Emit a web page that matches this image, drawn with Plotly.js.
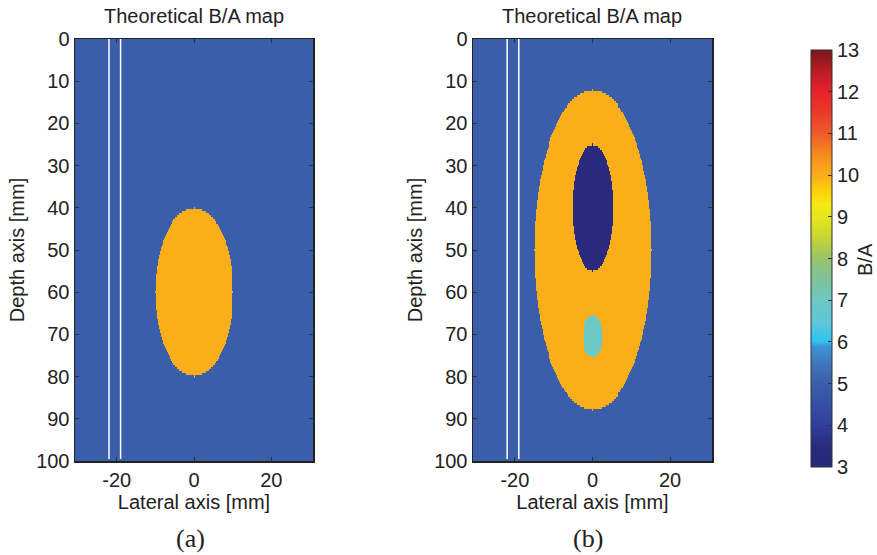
<!DOCTYPE html>
<html>
<head>
<meta charset="utf-8">
<script src="https://cdn.plot.ly/plotly-3.0.1.min.js"></script>
<style>html,body{margin:0;padding:0;background:#fff;}#chart{width:877px;height:555px;}</style>
</head>
<body>
<div id="chart"></div>
<script>
// ---- data ----
const lateralRange = [-31, 31];     // mm
const depthRange = [0, 100];        // mm
const gridStepLateral = 0.25;
const gridStepDepth = 0.5;
const backgroundBA = 5.0;

// Panel (a): one inclusion
const incA_name   = ["fat-like ellipse"];
const incA_value  = [10.0];
const incA_cx     = [0];
const incA_cz     = [60];
const incA_rx     = [10];
const incA_rz     = [20];

// Panel (b): nested inclusions (drawn in order)
const incB_name   = ["outer ellipse", "inner dark ellipse", "small inclusion"];
const incB_value  = [10.0, 3.5, 7.0];
const incB_cx     = [0, 0, 0];
const incB_cz     = [50, 40, 70.5];
const incB_rx     = [15, 5.2, 2.5];
const incB_rz     = [38, 15, 5];

// White vertical lines (lateral positions, mm)
const whiteLinesX = [-22, -19];

const xTicks = [-20, 0, 20];
const xTickText = ["-20", "0", "20"];
const yTicks = [0, 10, 20, 30, 40, 50, 60, 70, 80, 90, 100];
const cbTicks = [3, 4, 5, 6, 7, 8, 9, 10, 11, 12, 13];
const cbMin = 3, cbMax = 13;

// colour stops (value -> colour)
const cbStopVals = [3.0, 3.5, 4.0, 4.5, 5.0, 5.5, 5.9, 6.0, 6.5, 7.0, 7.5, 8.0, 8.5, 9.0, 9.3, 9.6, 10.0, 10.5, 11.0, 11.5, 12.0, 12.5, 13.0];
const cbStopCols = ["#26287a", "#2a2b7e", "#313f9a", "#3550a3", "#3b5eaa", "#3f78bd", "#3b96d4", "#2ec4f0", "#62c6d8", "#6ec9c4", "#7fc39a", "#98c46a", "#c6d532", "#e8e61c", "#f6e916", "#fcd20c", "#f9ae1a", "#f58a1f", "#ef5a28", "#ea3a2a", "#e9202a", "#b81e24", "#7a1517"];

// ---- build grids ----
const xs = [], zs = [];
for (let x = lateralRange[0]; x <= lateralRange[1] + 1e-9; x += gridStepLateral) xs.push(+x.toFixed(3));
for (let z = depthRange[0]; z <= depthRange[1] + 1e-9; z += gridStepDepth) zs.push(+z.toFixed(3));

function buildMap(vals, cx, cz, rx, rz) {
  return zs.map(z => xs.map(x => {
    let v = backgroundBA;
    for (let i = 0; i < vals.length; i++) {
      const dx = (x - cx[i]) / rx[i], dz = (z - cz[i]) / rz[i];
      if (dx * dx + dz * dz <= 1) v = vals[i];
    }
    return v;
  }));
}
const mapA = buildMap(incA_value, incA_cx, incA_cz, incA_rx, incA_rz);
const mapB = buildMap(incB_value, incB_cx, incB_cz, incB_rx, incB_rz);

const colorscale = cbStopVals.map((v, i) => [(v - cbMin) / (cbMax - cbMin), cbStopCols[i]]);

const FONT = "Liberation Sans, Arial, sans-serif";
const TXT = "#222";
const FS = 20;

const traces = [
  { type: "heatmap", x: xs, y: zs, z: mapA, xaxis: "x", yaxis: "y", zmin: cbMin, zmax: cbMax,
    colorscale: colorscale, zsmooth: false, showscale: false, hoverinfo: "skip" },
  { type: "heatmap", x: xs, y: zs, z: mapB, xaxis: "x2", yaxis: "y2", zmin: cbMin, zmax: cbMax,
    colorscale: colorscale, zsmooth: false, showscale: true, hoverinfo: "skip",
    colorbar: {
      x: 811 / 877, xanchor: "left", xpad: 0, ypad: 0,
      y: 1 - 258.5 / 555, yanchor: "middle", lenmode: "pixels", len: 417,
      thickness: 21, outlinewidth: 1, outlinecolor: "#333",
      tickvals: cbTicks, ticks: "inside", ticklen: 4, tickcolor: "#333",
      tickfont: { family: FONT, size: FS, color: TXT }
    } }
];
whiteLinesX.forEach(x => {
  ["", "2"].forEach(s => {
    traces.push({ type: "scatter", mode: "lines", x: [x, x], y: [depthRange[0], depthRange[1] - 0.5],
      xaxis: "x" + s, yaxis: "y" + s, line: { color: "#ffffff", width: 1.5 }, showlegend: false, hoverinfo: "skip" });
  });
});

function xax(domain, anchor) {
  return { domain: domain, anchor: anchor, range: [-30.8, 30.8], tickvals: xTicks, ticktext: xTickText,
    ticks: "inside", ticklen: 4, tickcolor: "#333", showline: true, linecolor: "#222", linewidth: 1.5,
    mirror: "ticks", showgrid: false, zeroline: false,
    tickfont: { family: FONT, size: FS, color: TXT },
    title: { text: "Lateral axis [mm]", font: { family: FONT, size: FS, color: TXT }, standoff: 2 } };
}
function yax(anchor) {
  return { domain: [1 - 461 / 555, 1 - 39 / 555], anchor: anchor, range: [100, 0], tickvals: yTicks,
    ticks: "inside", ticklen: 4, tickcolor: "#333", showline: true, linecolor: "#222", linewidth: 1.5,
    mirror: "ticks", showgrid: false, zeroline: false,
    tickfont: { family: FONT, size: FS, color: TXT },
    title: { text: "Depth axis [mm]", font: { family: FONT, size: FS, color: TXT }, standoff: 6 } };
}

const layout = {
  width: 877, height: 555, margin: { l: 0, r: 0, t: 0, b: 0 },
  paper_bgcolor: "#fff", plot_bgcolor: "#fff", showlegend: false,
  xaxis: xax([75 / 877, 313 / 877], "y"),
  yaxis: yax("x"),
  xaxis2: xax([473 / 877, 712 / 877], "y2"),
  yaxis2: yax("x2"),
  annotations: [
    { text: "Theoretical B/A map", xref: "paper", yref: "paper", x: 194 / 877, y: 1 - 16 / 555, xanchor: "center", yanchor: "middle", showarrow: false, font: { family: FONT, size: FS, color: TXT } },
    { text: "Theoretical B/A map", xref: "paper", yref: "paper", x: 592 / 877, y: 1 - 16 / 555, xanchor: "center", yanchor: "middle", showarrow: false, font: { family: FONT, size: FS, color: TXT } },
    { text: "B/A", xref: "paper", yref: "paper", x: 865 / 877, y: 1 - 260 / 555, xanchor: "center", yanchor: "middle", textangle: -90, showarrow: false, font: { family: FONT, size: FS, color: TXT } },
    { text: "(a)", xref: "paper", yref: "paper", x: 190 / 877, y: 1 - 538 / 555, xanchor: "center", yanchor: "middle", showarrow: false, font: { family: "Liberation Serif, Times New Roman, serif", size: 26, color: TXT } },
    { text: "(b)", xref: "paper", yref: "paper", x: 588 / 877, y: 1 - 538 / 555, xanchor: "center", yanchor: "middle", showarrow: false, font: { family: "Liberation Serif, Times New Roman, serif", size: 26, color: TXT } }
  ]
};

Plotly.newPlot("chart", traces, layout, { displayModeBar: false, staticPlot: true });
</script>
</body>
</html>
